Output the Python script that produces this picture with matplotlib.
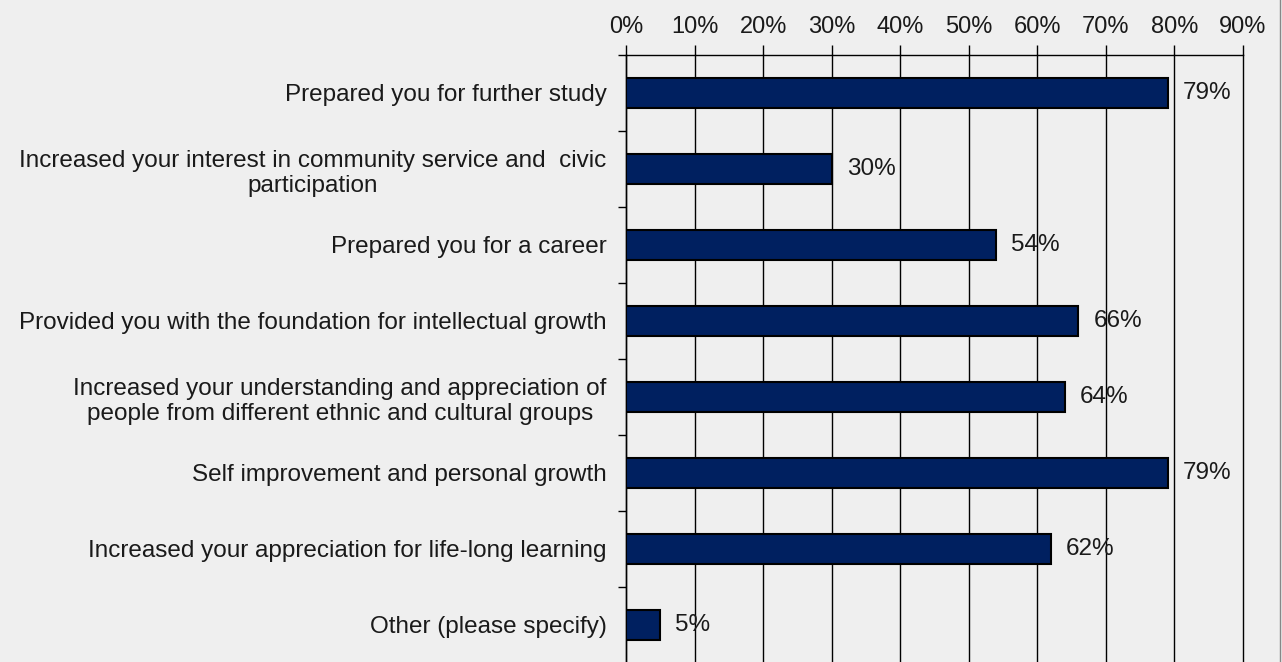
import numpy as np
import matplotlib.pyplot as plt
from matplotlib.lines import Line2D

plt.rcParams['font.family'] = ['Liberation Sans', 'DejaVu Sans']

# survey answers, top to bottom
categories = [
    'Prepared you for further study',
    'Increased your interest in community service and  civic\nparticipation',
    'Prepared you for a career',
    'Provided you with the foundation for intellectual growth',
    'Increased your understanding and appreciation of\npeople from different ethnic and cultural groups',
    'Self improvement and personal growth',
    'Increased your appreciation for life-long learning',
    'Other (please specify)',
]
values = [79, 30, 54, 66, 64, 79, 62, 5]
x_ticks = [0, 10, 20, 30, 40, 50, 60, 70, 80, 90]

bg = '#EFEFEF'
navy = '#002060'
txt = '#1a1a1a'
fs = 17.5

fig = plt.figure(figsize=(12.82, 6.62), dpi=100, facecolor=bg)
ax = fig.add_axes([626 / 1282, -1 / 662, (1243 - 626) / 1282, (663 - 55) / 662])
ax.set_facecolor(bg)

y = np.arange(len(categories))
ax.barh(y, values, height=0.4, color=navy, edgecolor='black', linewidth=1.5, zorder=3)

for yi, v in zip(y, values):
    ax.text(v + 2.2, yi, f'{v}%', va='center', ha='left', fontsize=fs, color=txt, zorder=4)

ax.set_xlim(0, 90)
ax.set_ylim(len(categories) - 0.5, -0.5)

ax.xaxis.tick_top()
ax.set_xticks(x_ticks)
ax.set_xticklabels([f'{t}%' for t in x_ticks], fontsize=17, color=txt)
ax.tick_params(axis='x', direction='out', length=7, width=1, pad=5, color='black')
for t in x_ticks:
    ax.axvline(t, color='black', linewidth=1, zorder=1, clip_on=False)

# category labels at centres, tick marks at boundaries
ax.set_yticks(y)
ax.set_yticklabels(categories, fontsize=fs, color=txt, multialignment='center')
ax.tick_params(axis='y', which='major', length=0, pad=14)
ax.set_yticks(np.arange(len(categories) + 1) - 0.5, minor=True)
ax.tick_params(axis='y', which='minor', direction='out', length=6, width=1, color='black')

for s in ['right', 'bottom']:
    ax.spines[s].set_visible(False)
ax.spines['top'].set_linewidth(1)
ax.spines['left'].set_linewidth(1)

# thin frame line at right edge
fig.add_artist(Line2D([0.9985, 0.9985], [0, 1], transform=fig.transFigure, color='#888888', linewidth=1))

plt.savefig('out.png', dpi=100, facecolor=bg)
